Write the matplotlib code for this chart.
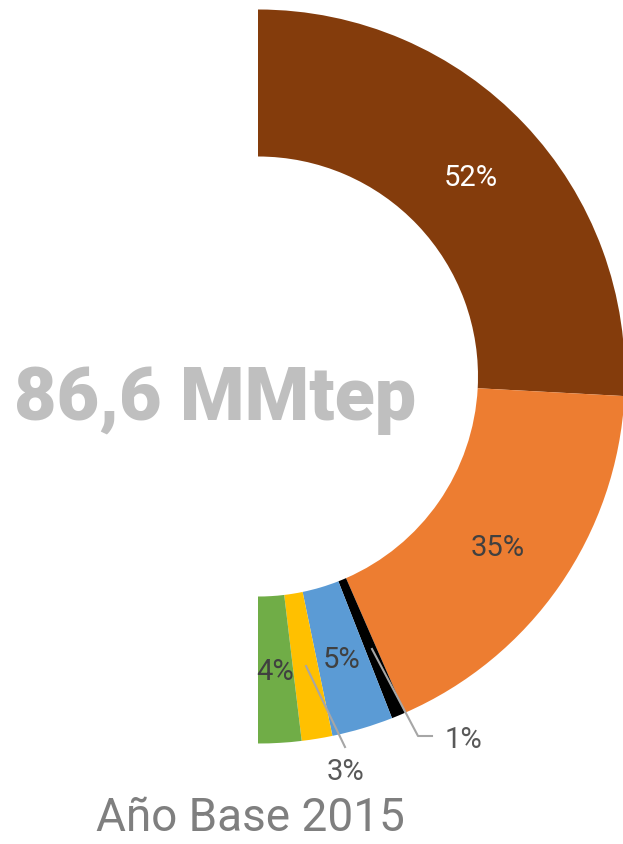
import numpy as np
import matplotlib.pyplot as plt

# Participación por fuente (Año Base 2015)
shares = [51.7, 35.2, 1.2, 5.4, 2.7, 3.8]
labels = ['52%', '35%', '1%', '5%', '3%', '4%']
colors = ['#843C0C', '#ED7D31', '#000000', '#5B9BD5', '#FFC000', '#70AD47']
total_text = '86,6 MMtep'
subtitle = 'Año Base 2015'

W, H = 623, 845
fig = plt.figure(figsize=(W / 100, H / 100), dpi=100)
ax = fig.add_axes([0, 0, 1, 1])

cx, cy = 258, H - 377.5
r_out, ring = 367, 147

# media dona: se agrega una porción invisible igual al total
vals = shares + [sum(shares)]
cols = colors + ['none']
wedges, _ = ax.pie(vals, colors=cols, startangle=90, counterclock=False,
                   radius=r_out, center=(cx, cy), frame=True,
                   wedgeprops=dict(width=ring, linewidth=0))
ax.set_xlim(0, W)
ax.set_ylim(0, H)
ax.set_aspect('equal')
ax.axis('off')

# posiciones de etiquetas (px) y colores
lab_pos = [(471, 178), (498, 548), (463, 740), (342, 660), (345, 772), (275, 672)]
lab_col = ['white', '#404040', '#595959', '#404040', '#595959', '#404040']
for t, (x, y), c in zip(labels, lab_pos, lab_col):
    ax.text(x, H - y, t, fontsize=21, color=c, family='Roboto',
            ha='center', va='center')

# líneas guía para 1% y 3%
ax.plot([372, 418, 432], [H - 650, H - 737, H - 737], color='#A6A6A6', lw=1.5)
ax.plot([306, 345], [H - 667, H - 748], color='#A6A6A6', lw=1.5)

ax.text(215, H - 400, total_text, fontsize=53, color='#BFBFBF', family='Roboto',
        weight='heavy', ha='center', va='center')
ax.text(250, H - 818, subtitle, fontsize=33, color='#7F7F7F', family='Roboto',
        ha='center', va='center')

fig.savefig('out.png', dpi=100)
